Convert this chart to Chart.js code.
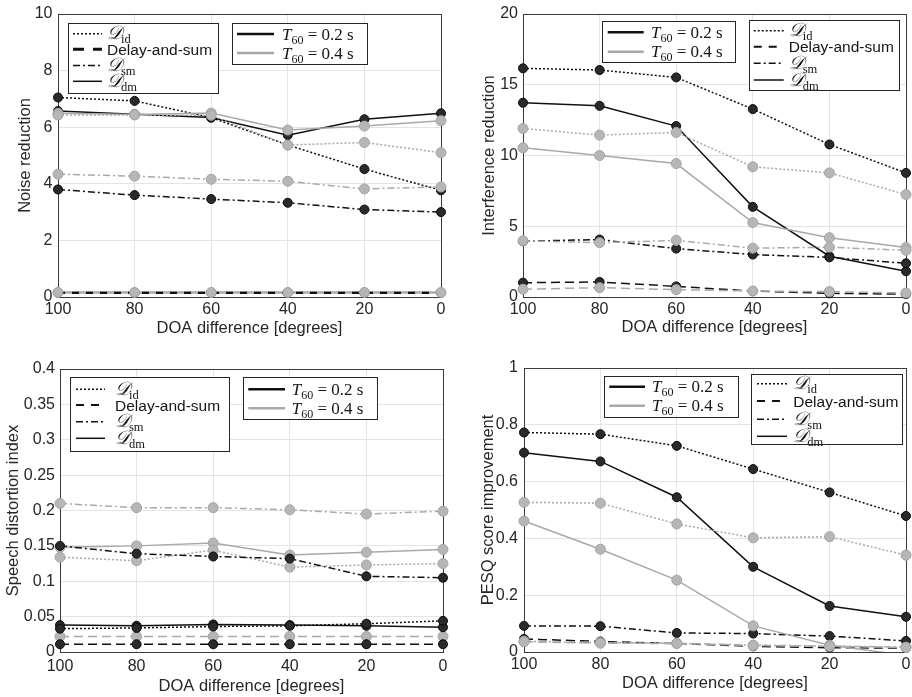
<!DOCTYPE html>
<html><head><meta charset="utf-8">
<script src="https://cdn.jsdelivr.net/npm/chart.js@4/dist/chart.umd.min.js"></script>
<style>
html,body{margin:0;padding:0;background:#fff;}
body{width:912px;height:697px;position:relative;overflow:hidden;}
.panel{position:absolute;}
.panel canvas{display:block;}
</style></head><body>
<div class="panel" style="left:0;top:0"><canvas id="c1" width="456" height="340"></canvas></div>
<div class="panel" style="left:456px;top:0"><canvas id="c2" width="456" height="340"></canvas></div>
<div class="panel" style="left:0;top:340px"><canvas id="c3" width="456" height="357"></canvas></div>
<div class="panel" style="left:456px;top:340px"><canvas id="c4" width="456" height="357"></canvas></div>
<script>
// ---------- DATA ----------
const doa = [100, 80, 60, 40, 20, 0];
const xTickValues = [100, 80, 60, 40, 20, 0];
const xTickLabels = ['100', '80', '60', '40', '20', '0'];

// Noise reduction
const nrIdT02 = [7.05, 6.93, 6.34, 5.37, 4.52, 3.77];
const nrIdT04 = [6.43, 6.43, 6.42, 5.37, 5.46, 5.10];
const nrDsT02 = [0.15, 0.15, 0.15, 0.15, 0.15, 0.15];
const nrDsT04 = [0.16, 0.16, 0.16, 0.16, 0.16, 0.16];
const nrSmT02 = [3.80, 3.60, 3.46, 3.33, 3.09, 3.00];
const nrSmT04 = [4.34, 4.27, 4.16, 4.09, 3.82, 3.89];
const nrDmT02 = [6.57, 6.46, 6.34, 5.72, 6.28, 6.49];
const nrDmT04 = [6.49, 6.45, 6.50, 5.90, 6.04, 6.23];
const nrTickValues = [0, 2, 4, 6, 8, 10];
const nrTickLabels = ['0', '2', '4', '6', '8', '10'];

// Interference reduction
const irIdT02 = [16.16, 16.04, 15.52, 13.28, 10.78, 8.77];
const irIdT04 = [11.91, 11.44, 11.63, 9.20, 8.77, 7.24];
const irDsT02 = [1.01, 1.06, 0.75, 0.42, 0.26, 0.20];
const irDsT04 = [0.55, 0.66, 0.52, 0.42, 0.38, 0.28];
const irSmT02 = [3.94, 4.06, 3.42, 3.00, 2.80, 2.38];
const irSmT04 = [3.97, 3.84, 4.00, 3.45, 3.52, 3.30];
const irDmT02 = [13.73, 13.51, 12.08, 6.37, 2.88, 1.82];
const irDmT04 = [10.54, 10.00, 9.43, 5.26, 4.19, 3.50];
const irTickValues = [0, 5, 10, 15, 20];
const irTickLabels = ['0', '5', '10', '15', '20'];

// Speech distortion index
const sdIdT02 = [0.033, 0.034, 0.036, 0.037, 0.040, 0.044];
const sdIdT04 = [0.134, 0.129, 0.144, 0.120, 0.123, 0.125];
const sdDsT02 = [0.011, 0.011, 0.011, 0.011, 0.011, 0.011];
const sdDsT04 = [0.022, 0.022, 0.022, 0.022, 0.022, 0.022];
const sdSmT02 = [0.150, 0.139, 0.135, 0.132, 0.107, 0.105];
const sdSmT04 = [0.210, 0.204, 0.204, 0.201, 0.195, 0.199];
const sdDmT02 = [0.038, 0.037, 0.039, 0.038, 0.037, 0.035];
const sdDmT04 = [0.148, 0.150, 0.154, 0.137, 0.141, 0.145];
const sdTickValues = [0, 0.05, 0.1, 0.15, 0.2, 0.25, 0.3, 0.35, 0.4];
const sdTickLabels = ['0', '0.05', '0.1', '0.15', '0.2', '0.25', '0.3', '0.35', '0.4'];

// PESQ score improvement
const pqIdT02 = [0.773, 0.767, 0.726, 0.644, 0.562, 0.479];
const pqIdT04 = [0.527, 0.524, 0.451, 0.402, 0.406, 0.341];
const pqDsT02 = [0.046, 0.037, 0.030, 0.020, 0.015, 0.014];
const pqDsT04 = [0.036, 0.031, 0.030, 0.023, 0.020, 0.016];
const pqSmT02 = [0.092, 0.091, 0.067, 0.065, 0.056, 0.039];
const pqSmT04 = [0.038, 0.033, 0.031, 0.024, 0.021, 0.017];
const pqDmT02 = [0.702, 0.671, 0.545, 0.300, 0.162, 0.124];
const pqDmT04 = [0.461, 0.362, 0.253, 0.092, 0.024, -0.012];
const pqTickValues = [0, 0.2, 0.4, 0.6, 0.8, 1];
const pqTickLabels = ['0', '0.2', '0.4', '0.6', '0.8', '1'];

// ---------- STYLE ----------
const TXT = '#262626';
const SANS = '"Liberation Sans", Arial, Helvetica, sans-serif';
const SERIF = '"Liberation Serif", "Times New Roman", serif';
const CAL = '"DejaVu Serif", "DejaVu Sans", serif';
const dashes = { id: [2, 2], ds: [9, 5], sm: [7, 3, 2, 3], dm: [] };
const tone = {
  t02: { line: '#111111', fill: '#2a2a2a', edge: '#0a0a0a', r: 4.5 },
  t04: { line: '#a9a9a9', fill: '#b6b6b6', edge: '#a3a3a3', r: 5 }
};

function ds(values, method, t60, extra) {
  const t = tone[t60];
  return Object.assign({
    data: doa.map((x, i) => ({ x: x, y: values[i] })),
    borderColor: t.line,
    borderWidth: 1.5,
    borderDash: dashes[method],
    pointRadius: c => (c.raw && c.raw.y < 0 ? 0 : t.r),
    pointBackgroundColor: t.fill,
    pointBorderColor: t.edge,
    pointBorderWidth: 1,
    pointStyle: 'circle',
    tension: 0,
    fill: false,
    clip: false
  }, extra || {});
}

function drawRich(ctx, parts, x, y) {
  ctx.textAlign = 'left';
  ctx.textBaseline = 'alphabetic';
  ctx.fillStyle = '#151515';
  let cx = x;
  for (const p of parts) {
    ctx.font = p.font;
    ctx.fillText(p.t, cx, y + (p.dy || 0));
    cx += ctx.measureText(p.t).width + (p.gap || 0);
  }
}

const cal = (sub) => [
  { t: '\u{1D49F}', font: 'italic 19px ' + CAL, gap: -1 },
  { t: sub, font: '12.5px ' + SERIF, dy: 4 }
];
const t60 = (val) => [
  { t: 'T', font: 'italic 17px ' + SERIF, gap: 0 },
  { t: '60', font: '12px ' + SERIF, dy: 4 },
  { t: ' = ' + val + ' s', font: '17px ' + SERIF }
];
function methodItems(dsWidth, dsDash) {
  return [
    { dash: [2, 2], color: '#111', width: 1.5, parts: cal('id') },
    { dash: dsDash, color: '#111', width: dsWidth, parts: [{ t: 'Delay-and-sum', font: '15.5px ' + SANS }] },
    { dash: [7, 3, 2, 3], color: '#111', width: 1.5, parts: cal('sm') },
    { dash: [], color: '#111', width: 1.5, parts: cal('dm') }
  ];
}
const t60Items = [
  { dash: [], color: '#111', width: 2.5, parts: t60('0.2') },
  { dash: [], color: '#a9a9a9', width: 2.5, parts: t60('0.4') }
];

const boxLegendPlugin = {
  id: 'boxLegend',
  beforeDatasetsDraw(chart) {
    const { ctx, chartArea: a } = chart;
    ctx.save();
    ctx.strokeStyle = '#3a3a3a';
    ctx.lineWidth = 1;
    ctx.strokeRect(Math.round(a.left) + 0.5, Math.round(a.top) + 0.5,
      Math.round(a.right) - Math.round(a.left), Math.round(a.bottom) - Math.round(a.top));
    ctx.restore();
  },
  afterDraw(chart, args, opts) {
    const ctx = chart.ctx;
    const ox = opts.ox, oy = opts.oy;
    for (const b of opts.boxes) {
      ctx.save();
      const x = Math.round(b.x - ox) + 0.5, y = Math.round(b.y - oy) + 0.5;
      ctx.fillStyle = '#ffffff';
      ctx.fillRect(x, y, Math.round(b.w), Math.round(b.h));
      ctx.strokeStyle = '#262626';
      ctx.lineWidth = 1;
      ctx.strokeRect(x, y, Math.round(b.w), Math.round(b.h));
      b.items.forEach((it, k) => {
        const ry = b.y - oy + b.rows[k];
        ctx.beginPath();
        ctx.setLineDash(it.dash);
        ctx.strokeStyle = it.color;
        ctx.lineWidth = it.width;
        ctx.moveTo(b.sx - ox, ry);
        ctx.lineTo(b.sx - ox + b.sl, ry);
        ctx.stroke();
        ctx.setLineDash([]);
        drawRich(ctx, it.parts, b.tx - ox, ry + 5.5);
      });
      ctx.restore();
    }
  }
};

function makeChart(p) {
  const font = { family: SANS, size: 16 };
  const yW = p.area.l - p.left;
  const xH = p.top + p.height - p.area.b;
  return new Chart(document.getElementById(p.id), {
    type: 'line',
    data: { datasets: p.datasets },
    plugins: [boxLegendPlugin],
    options: {
      responsive: false,
      animation: false,
      events: [],
      layout: { padding: { left: 0, top: p.area.t - p.top, right: p.left + p.width - p.area.r, bottom: 0 } },
      plugins: {
        legend: { display: false },
        tooltip: { enabled: false },
        boxLegend: { ox: p.left, oy: p.top, boxes: p.boxes }
      },
      scales: {
        x: {
          type: 'linear', reverse: true, min: 0, max: 100,
          afterBuildTicks: s => { s.ticks = xTickValues.map(v => ({ value: v })); },
          afterFit: s => { s.height = xH; s.paddingLeft = 0; s.paddingRight = 0; },
          ticks: { font: font, color: TXT, padding: p.xTickPad, autoSkip: false, maxRotation: 0,
                   callback: (v, i) => xTickLabels[i] },
          grid: { color: '#e4e4e4', lineWidth: 1, drawTicks: false },
          border: { display: false },
          title: { display: true, text: 'DOA difference [degrees]', font: { family: SANS, size: 16.5 }, color: TXT,
                   padding: { top: 0, bottom: p.xTitlePad } }
        },
        y: {
          type: 'linear', min: 0, max: p.yMax,
          afterBuildTicks: s => { s.ticks = p.yTicks.map(v => ({ value: v })); },
          afterFit: s => { s.width = yW; s.paddingTop = 0; s.paddingBottom = 0; },
          ticks: { font: font, color: TXT, padding: p.yTickPad, autoSkip: false,
                   callback: (v, i) => p.yLabels[i] },
          grid: { color: '#e4e4e4', lineWidth: 1, drawTicks: false },
          border: { display: false },
          title: { display: true, text: p.yTitle, font: { family: SANS, size: 16.5 }, color: TXT,
                   padding: { top: p.yTitlePad, bottom: 0 } }
        }
      }
    }
  });
}

// Panel 1: Noise reduction
makeChart({
  id: 'c1', left: 0, top: 0, width: 456, height: 340,
  area: { l: 58, r: 441, t: 14, b: 297 },
  yMax: 10, yTicks: nrTickValues, yLabels: nrTickLabels, yTitle: 'Noise reduction',
  yTitlePad: 15.5, yTickPad: 5.5, xTickPad: 3.4, xTitlePad: 1.4,
  datasets: [
    ds(nrIdT04, 'id', 't04'), ds(nrDsT04, 'ds', 't04', { borderWidth: 2.5, borderDashOffset: 7, borderDash: [7, 7] }),
    ds(nrSmT04, 'sm', 't04'), ds(nrDmT04, 'dm', 't04'),
    ds(nrIdT02, 'id', 't02'), ds(nrDsT02, 'ds', 't02', { borderWidth: 2.5, borderDash: [7, 7] }),
    ds(nrSmT02, 'sm', 't02'), ds(nrDmT02, 'dm', 't02')
  ],
  boxes: [
    { x: 67.5, y: 22.5, w: 149.5, h: 69.5, sx: 73, sl: 29, tx: 107, rows: [11.3, 26.8, 43, 58.8], items: methodItems(3, [11, 9]) },
    { x: 232, y: 22.5, w: 134.5, h: 41, sx: 237, sl: 37, tx: 282, rows: [11.5, 30.6], items: t60Items }
  ]
});

// Panel 2: Interference reduction
makeChart({
  id: 'c2', left: 456, top: 0, width: 456, height: 340,
  area: { l: 523, r: 906, t: 14, b: 297 },
  yMax: 20, yTicks: irTickValues, yLabels: irTickLabels, yTitle: 'Interference reduction',
  yTitlePad: 23.7, yTickPad: 5, xTickPad: 3.4, xTitlePad: 2.4,
  datasets: [
    ds(irIdT04, 'id', 't04'), ds(irDsT04, 'ds', 't04'), ds(irSmT04, 'sm', 't04'), ds(irDmT04, 'dm', 't04'),
    ds(irIdT02, 'id', 't02'), ds(irDsT02, 'ds', 't02'), ds(irSmT02, 'sm', 't02'), ds(irDmT02, 'dm', 't02')
  ],
  boxes: [
    { x: 601.7, y: 21, w: 133.3, h: 41, sx: 607.7, sl: 36, tx: 651, rows: [11.3, 30.7], items: t60Items },
    { x: 748.7, y: 20, w: 150.3, h: 70, sx: 753.7, sl: 30, tx: 788.7, rows: [10.7, 26.7, 43.3, 60], items: methodItems(2, [8, 7]) }
  ]
});

// Panel 3: Speech distortion index
makeChart({
  id: 'c3', left: 0, top: 340, width: 456, height: 357,
  area: { l: 60, r: 443, t: 369, b: 652 },
  yMax: 0.4, yTicks: sdTickValues, yLabels: sdTickLabels, yTitle: 'Speech distortion index',
  yTitlePad: 3.7, yTickPad: 5, xTickPad: 5.1, xTitlePad: 0.7,
  datasets: [
    ds(sdIdT02, 'id', 't02'), ds(sdDsT02, 'ds', 't02'), ds(sdSmT02, 'sm', 't02'), ds(sdDmT02, 'dm', 't02'),
    ds(sdIdT04, 'id', 't04'), ds(sdDsT04, 'ds', 't04'), ds(sdSmT04, 'sm', 't04'), ds(sdDmT04, 'dm', 't04')
  ],
  boxes: [
    { x: 70, y: 377.3, w: 158.7, h: 73.7, sx: 76, sl: 29, tx: 115, rows: [12, 27.7, 44.4, 61], items: methodItems(2, [8, 7]) },
    { x: 242.7, y: 377, w: 134.3, h: 42, sx: 248.3, sl: 36.7, tx: 291.7, rows: [12.3, 31.3], items: t60Items }
  ]
});

// Panel 4: PESQ score improvement
makeChart({
  id: 'c4', left: 456, top: 340, width: 456, height: 357,
  area: { l: 524, r: 908, t: 368, b: 652 },
  yMax: 1, yTicks: pqTickValues, yLabels: pqTickLabels, yTitle: 'PESQ score improvement',
  yTitlePad: 22.1, yTickPad: 6, xTickPad: 3.4, xTitlePad: 4.1,
  datasets: [
    ds(pqIdT04, 'id', 't04'), ds(pqDsT04, 'ds', 't04'), ds(pqSmT04, 'sm', 't04'),
    ds(pqDmT04, 'dm', 't04', { clip: { left: false, top: false, right: false, bottom: 0 } }),
    ds(pqIdT02, 'id', 't02'), ds(pqDsT02, 'ds', 't02'), ds(pqSmT02, 'sm', 't02'), ds(pqDmT02, 'dm', 't02')
  ],
  boxes: [
    { x: 603.7, y: 375.7, w: 134.3, h: 41, sx: 609.3, sl: 35.7, tx: 652, rows: [11, 30], items: t60Items },
    { x: 750.7, y: 374.3, w: 150.6, h: 70, sx: 757, sl: 30, tx: 793.3, rows: [9.5, 26.7, 45, 62], items: methodItems(2, [8, 7]) }
  ]
});
</script>
</body></html>
